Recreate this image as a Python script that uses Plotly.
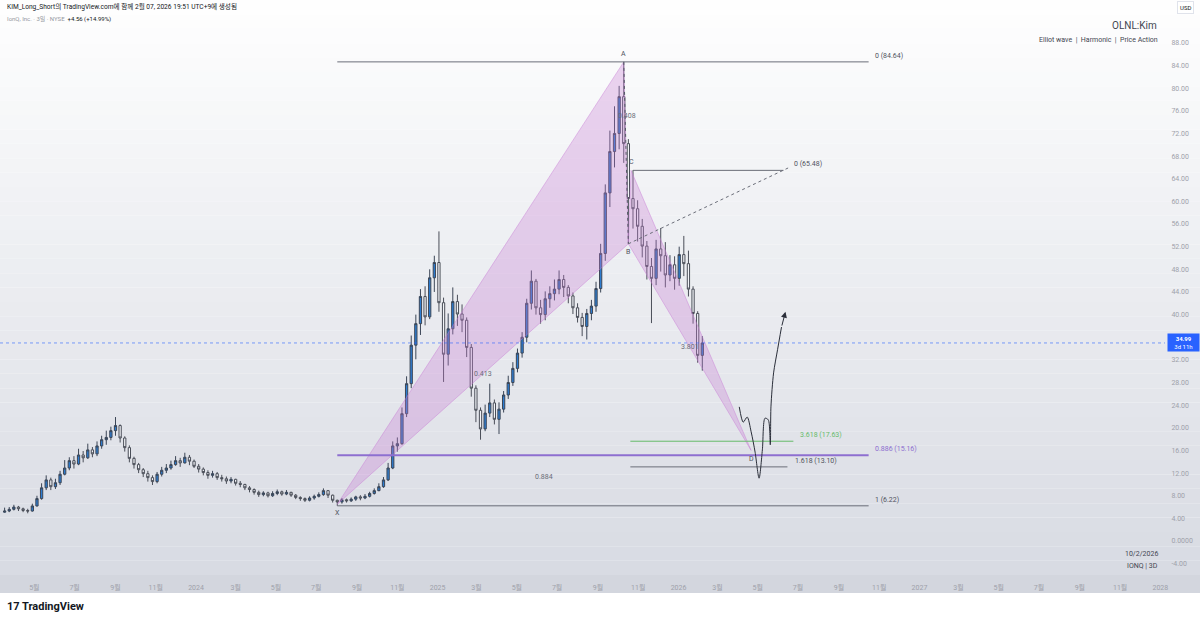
import pandas as pd
import plotly.graph_objects as go

# weekly candles (IONQ, NYSE)
week_start = "2023-03-17"
first_open = 5.1
closes = [5.3, 5.6, 6.0, 5.7, 5.4, 5.3, 6.2, 7.5, 9.4, 10.8,
          9.6, 10.3, 11.8, 12.9, 14.2, 13.6, 15.2, 14.7, 16.1, 15.4,
          16.8, 17.9, 18.3, 19.5, 20.4, 18.2, 16.5, 14.6, 13.5, 12.6,
          11.9, 11.2, 10.5, 11.8, 12.5, 12.9, 13.5, 14.2, 13.8, 14.8,
          14.1, 13.2, 12.7, 12.1, 11.6, 11.9, 11.2, 11.0, 10.6, 10.9,
          10.2, 10.0, 9.4, 9.1, 8.6, 8.2, 8.5, 8.0, 8.4, 8.7,
          8.3, 8.6, 8.1, 7.7, 7.5, 7.2, 7.6, 7.9, 8.2, 8.9,
          8.1, 7.2, 6.9, 7.3, 7.1, 7.4, 7.8, 7.6, 7.9, 8.4,
          8.9, 9.6, 10.8, 12.9, 16.8, 17.2, 22.5, 27.8, 34.6, 38.4,
          43.2, 39.6, 46.5, 49.2, 42.1, 33.0, 37.5, 42.3, 40.1, 39.0,
          34.2, 27.0, 23.1, 19.8, 22.6, 24.4, 21.5, 23.3, 25.8, 28.0,
          30.5, 33.2, 36.0, 42.0, 45.9, 41.2, 40.0, 42.8, 43.7, 44.5,
          46.2, 44.8, 43.3, 41.2, 39.5, 37.9, 40.2, 41.5, 44.6, 50.8,
          61.5, 68.8, 72.0, 78.5, 70.2, 60.5, 58.7, 55.6, 52.1, 48.5,
          46.4, 51.6, 50.4, 47.0, 48.8, 46.4, 50.6, 49.0, 44.5, 40.2,
          32.8, 34.99]
highs = [5.9, 6.0, 6.4, 6.2, 5.9, 5.7, 6.6, 8.0, 10.2, 11.6,
         11.2, 11.0, 12.4, 14.3, 14.8, 15.0, 16.3, 15.9, 17.2, 16.6,
         17.6, 18.6, 19.5, 20.2, 21.9, 20.6, 18.5, 16.9, 14.9, 13.8,
         12.9, 12.4, 11.6, 12.2, 13.1, 13.6, 14.2, 15.0, 14.7, 15.6,
         15.2, 14.4, 13.6, 13.0, 12.5, 12.4, 12.2, 11.7, 11.4, 11.3,
         11.0, 10.6, 10.1, 9.7, 9.3, 8.9, 8.8, 8.7, 8.8, 9.1,
         8.9, 9.0, 8.7, 8.3, 7.9, 7.7, 7.9, 8.2, 8.6, 9.3,
         9.0, 8.2, 7.3, 7.6, 7.5, 7.7, 8.0, 8.1, 8.3, 8.7,
         9.3, 10.2, 11.3, 13.8, 17.6, 18.3, 23.6, 29.1, 36.3, 40.0,
         44.5, 45.0, 48.0, 50.4, 54.7, 43.0, 40.2, 44.8, 43.5, 41.8,
         39.5, 34.8, 27.5, 23.6, 24.1, 27.8, 25.0, 24.5, 26.5, 29.2,
         31.6, 34.0, 36.9, 42.8, 47.8, 46.3, 42.6, 44.1, 45.0, 46.2,
         47.8, 47.0, 45.2, 43.9, 42.0, 40.3, 41.0, 42.6, 45.8, 52.5,
         63.0, 72.5, 76.8, 80.4, 84.64, 71.0, 65.5, 60.2, 56.9, 53.0,
         50.0, 53.2, 55.3, 52.8, 50.5, 50.3, 52.0, 53.9, 51.3, 45.0,
         40.6, 36.2]
lows = [5.0, 5.1, 5.4, 5.3, 5.1, 4.9, 5.2, 6.1, 7.3, 9.0,
        9.0, 9.2, 9.9, 11.6, 12.5, 12.8, 13.4, 13.9, 14.5, 14.8,
        15.0, 16.3, 17.0, 17.8, 18.6, 17.4, 15.8, 13.9, 12.8, 12.0,
        11.3, 10.5, 9.9, 10.2, 11.4, 12.0, 12.6, 13.3, 13.1, 13.7,
        13.4, 12.9, 12.1, 11.6, 11.0, 11.2, 10.8, 10.5, 10.1, 10.2,
        9.8, 9.5, 9.0, 8.6, 8.2, 7.8, 7.9, 7.7, 7.8, 8.1,
        8.0, 8.1, 7.8, 7.4, 7.1, 6.9, 7.0, 7.3, 7.7, 8.0,
        7.6, 6.8, 6.22, 6.6, 6.8, 6.9, 7.1, 7.2, 7.4, 7.7,
        8.2, 8.8, 9.4, 10.6, 12.7, 15.8, 17.0, 21.9, 27.0, 32.1,
        36.4, 38.1, 39.2, 44.0, 40.5, 28.1, 31.0, 36.5, 38.0, 36.9,
        32.5, 25.5, 21.0, 17.9, 19.4, 21.9, 20.6, 18.9, 22.7, 25.1,
        27.4, 29.8, 32.4, 35.1, 40.9, 40.0, 38.4, 39.0, 41.2, 42.5,
        43.6, 43.1, 42.0, 40.1, 38.6, 36.2, 35.6, 39.0, 40.5, 43.9,
        49.5, 59.0, 66.0, 69.2, 66.8, 52.5, 55.2, 52.9, 50.1, 46.2,
        38.5, 45.2, 47.6, 44.8, 45.9, 44.4, 45.1, 46.8, 43.2, 38.4,
        31.5, 30.1]

# XABCD harmonic pattern
pattern_names = ["X", "A", "B", "C", "D"]
pattern_dates = ["2024-08-02", "2025-10-10", "2025-10-17", "2025-10-21", "2026-04-21"]
pattern_prices = [6.5, 84.64, 52.5, 65.48, 16.0]
ratio_labels = ["0.413", "0.408", "3.801", "0.884"]
ratio_pairs = [(0, 2), (1, 3), (2, 4), (0, 4)]

# fib levels
fib_prices = [84.64, 65.48, 17.63, 15.16, 13.10, 6.22]
fib_labels = ["0 (84.64)", "0 (65.48)", "3.618 (17.63)", "0.886 (15.16)", "1.618 (13.10)", "1 (6.22)"]
fib_start = ["2024-08-02", "2025-10-24", "2025-10-20", "2024-08-02", "2025-10-20", "2024-08-02"]
fib_end = ["2026-10-16", "2026-06-09", "2026-06-24", "2026-10-16", "2026-06-15", "2026-10-16"]
fib_label_dates = ["2026-10-23", "2026-06-22", "2026-07-01", "2026-10-23", "2026-06-24", "2026-10-23"]
fib_colors = ["#6a6d78", "#6a6d78", "#66bb6a", "#8e6fd0", "#6a6d78", "#6a6d78"]
fib_widths = [1, 1, 1, 2, 1, 1]

# dotted trend line from B
trend_dates = ["2025-10-17", "2026-06-16"]
trend_prices = [52.5, 65.9]

# hand drawn projection
sketch_dates = ["2026-04-03", "2026-04-09", "2026-04-15", "2026-04-21", "2026-04-27", "2026-05-03",
                "2026-05-08", "2026-05-12", "2026-05-17", "2026-05-20", "2026-05-21", "2026-05-25",
                "2026-05-31", "2026-06-06"]
sketch_prices = [23.7, 21.0, 21.9, 19.3, 15.7, 11.1, 16.1, 21.7, 21.4, 17.0, 23.7, 29.7, 33.8, 37.8]
arrow_tip = ("2026-06-12", 40.5)

last_price = 34.99

tick_dates = ["2023-05-01", "2023-07-01", "2023-09-01", "2023-11-01", "2024-01-01", "2024-03-01",
              "2024-05-01", "2024-07-01", "2024-09-01", "2024-11-01", "2025-01-01", "2025-03-01",
              "2025-05-01", "2025-07-01", "2025-09-01", "2025-11-01", "2026-01-01", "2026-03-01",
              "2026-05-01", "2026-07-01", "2026-09-01", "2026-11-01", "2027-01-01", "2027-03-01",
              "2027-05-01", "2027-07-01", "2027-09-01", "2027-11-01", "2028-01-01"]
tick_text = ["5월", "7월", "9월", "11월", "2024", "3월", "5월", "7월", "9월", "11월", "2025", "3월",
             "5월", "7월", "9월", "11월", "2026", "3월", "5월", "7월", "9월", "11월", "2027", "3월",
             "5월", "7월", "9월", "11월", "2028"]
price_ticks = list(range(-4, 89, 4))

FONT = "Roboto, 'Noto Sans CJK KR', sans-serif"
W, H = 1200, 621
L, R, T, B = 0, 35, 14, 46
PW, PH = W - L - R, H - T - B


def px(x):
    return (x - L) / PW


def py(y):
    return (H - B - y) / PH


dates = pd.date_range(week_start, periods=len(closes), freq="7D")
opens = [first_open] + closes[:-1]

fig = go.Figure()

# harmonic fills (under candles)
pd_dates = pd.to_datetime(pattern_dates)
for tri in [(0, 1, 2), (2, 3, 4)]:
    fig.add_trace(go.Scatter(
        x=[pd_dates[i] for i in tri] + [pd_dates[tri[0]]],
        y=[pattern_prices[i] for i in tri] + [pattern_prices[tri[0]]],
        mode="lines", fill="toself", fillcolor="rgba(200,125,212,0.32)",
        line=dict(color="rgba(200,125,212,0.45)", width=1), hoverinfo="skip"
    ))

fig.add_trace(go.Candlestick(
    x=dates, open=opens, high=highs, low=lows, close=closes,
    increasing=dict(fillcolor="#2d7dd2", line=dict(color="#3c4656", width=1)),
    decreasing=dict(fillcolor="#f2f4f8", line=dict(color="#4a4e58", width=1)),
    whiskerwidth=0, hoverinfo="skip"
))

# dotted A-B leg
fig.add_trace(go.Scatter(
    x=[pd_dates[1], pd_dates[2]], y=[pattern_prices[1], pattern_prices[2]],
    mode="lines", line=dict(color="#555a66", width=1, dash="dot"), hoverinfo="skip"
))
fig.add_trace(go.Scatter(
    x=trend_dates, y=trend_prices, mode="lines",
    line=dict(color="#6a6d78", width=1, dash="dot"), hoverinfo="skip"
))

for p, x0, x1, c, w in zip(fib_prices, fib_start, fib_end, fib_colors, fib_widths):
    fig.add_trace(go.Scatter(x=[x0, x1], y=[p, p], mode="lines",
                             line=dict(color=c, width=w), hoverinfo="skip"))

fig.add_trace(go.Scatter(
    x=sketch_dates, y=sketch_prices, mode="lines",
    line=dict(color="#2a2e39", width=1, shape="spline", smoothing=0.8), hoverinfo="skip"
))

ann = []
for lab, p, xd, c in zip(fib_labels, fib_prices, fib_label_dates, fib_colors):
    ann.append(dict(x=xd, y=p, xref="x", yref="y", text=lab, showarrow=False,
                    xanchor="left", yanchor="middle", yshift=6,
                    font=dict(size=7, color=c if c != "#6a6d78" else "#50535e")))

shifts = [-9, 8, -8, 8, -9]
for n, d, p, s in zip(pattern_names, pattern_dates, pattern_prices, shifts):
    ann.append(dict(x=d, y=p, xref="x", yref="y", text=n, showarrow=False, yshift=s,
                    font=dict(size=7, color="#50535e")))

for lab, (a, b) in zip(ratio_labels, ratio_pairs):
    mid = pd_dates[a] + (pd_dates[b] - pd_dates[a]) / 2
    ann.append(dict(x=mid, y=(pattern_prices[a] + pattern_prices[b]) / 2, xref="x", yref="y",
                    text=lab, showarrow=False, font=dict(size=7, color="#6a6d78")))

ann.append(dict(x=arrow_tip[0], y=arrow_tip[1], ax=sketch_dates[-1], ay=sketch_prices[-1],
                xref="x", yref="y", axref="x", ayref="y", text="", showarrow=True,
                arrowhead=2, arrowsize=1.2, arrowwidth=1, arrowcolor="#2a2e39"))

# last price tag
ann.append(dict(x=1.0, y=last_price, xref="paper", yref="y", xanchor="left", xshift=2,
                text="<b>34.99</b><br>3d 11h", showarrow=False, bgcolor="#2962ff",
                font=dict(size=6, color="white"), width=29, borderpad=1, align="center"))

# header & watermark texts
ann += [
    dict(x=px(5), y=py(6), xref="paper", yref="paper", xanchor="left", yanchor="middle",
         text="KIM_Long_Short의 TradingView.com에 함께 2월 07, 2026 19:51 UTC+9에 생성됨",
         showarrow=False, font=dict(size=6.6, color="#131722")),
    dict(x=px(5), y=py(19), xref="paper", yref="paper", xanchor="left", yanchor="middle",
         text="<span style='color:#9598a1'>IonQ, Inc. · 3일 · NYSE</span>  +4.56 (+14.99%)",
         showarrow=False, font=dict(size=6, color="#131722")),
    dict(x=px(1159), y=py(25), xref="paper", yref="paper", xanchor="right", yanchor="middle",
         text="OLNL:Kim", showarrow=False, font=dict(size=10, color="#434651")),
    dict(x=px(1160), y=py(40), xref="paper", yref="paper", xanchor="right", yanchor="middle",
         text="Elliot wave  |  Harmonic  |  Price Action", showarrow=False,
         font=dict(size=7, color="#434651")),
    dict(x=px(1185), y=py(8), xref="paper", yref="paper", xanchor="center", yanchor="middle",
         text="USD", showarrow=False, bgcolor="white", bordercolor="#e0e3eb", borderwidth=1,
         borderpad=2, font=dict(size=6, color="#131722")),
    dict(x=px(1160), y=py(554), xref="paper", yref="paper", xanchor="right", yanchor="middle",
         text="10/2/2026", showarrow=False, font=dict(size=7, color="#434651")),
    dict(x=px(1160), y=py(566), xref="paper", yref="paper", xanchor="right", yanchor="middle",
         text="IONQ | 3D", showarrow=False, font=dict(size=7, color="#434651")),
    dict(x=px(5), y=py(606), xref="paper", yref="paper", xanchor="left", yanchor="middle",
         text="<b>17 TradingView</b>", showarrow=False, font=dict(size=11, color="#131722")),
]

# background gradient of the chart pane
shapes = []
n = 40
top, bot = 0, 575
for k in range(n):
    y0 = top + (bot - top) * k / n
    y1 = top + (bot - top) * (k + 1) / n
    f = (k + 0.5) / n
    r = int(255 - f * (255 - 216))
    g = int(255 - f * (255 - 219))
    b = int(255 - f * (255 - 227))
    shapes.append(dict(type="rect", xref="paper", yref="paper", x0=0, x1=px(W),
                       y0=py(y1), y1=py(y0), fillcolor=f"rgb({r},{g},{b})",
                       line=dict(width=0), layer="below"))
shapes.append(dict(type="rect", xref="paper", yref="paper", x0=0, x1=px(W),
                   y0=py(593), y1=py(575), fillcolor="#d3d6de", line=dict(width=0), layer="below"))
shapes.append(dict(type="line", xref="paper", yref="y", x0=0, x1=1, y0=last_price, y1=last_price,
                   line=dict(color="rgba(41,98,255,0.6)", width=1, dash="dot")))

fig.update_layout(
    width=W, height=H, margin=dict(l=L, r=R, t=T, b=B, autoexpand=False),
    paper_bgcolor="white", plot_bgcolor="rgba(0,0,0,0)",
    showlegend=False, hovermode=False, font=dict(family=FONT),
    annotations=ann, shapes=shapes,
    xaxis=dict(type="date", range=["2023-03-10", "2028-01-08"], rangeslider=dict(visible=False),
               tickvals=tick_dates, ticktext=tick_text, showgrid=False, zeroline=False,
               tickfont=dict(size=7, color="#9ea1aa"), ticks="outside", ticklen=6,
               tickcolor="rgba(0,0,0,0)", showline=False, automargin=False),
    yaxis=dict(range=[-6.0, 93.1], side="right", tickvals=price_ticks,
               ticktext=["0.0000" if v == 0 else f"{v:.2f}" for v in price_ticks],
               showgrid=False, zeroline=False, tickfont=dict(size=7, color="#9ea1aa"),
               ticks="outside", ticklen=4, tickcolor="rgba(0,0,0,0)", automargin=False),
)

fig.write_html("out.html", config={"displayModeBar": False},
               post_script="document.body.style.margin='0';document.body.style.overflow='hidden';")
